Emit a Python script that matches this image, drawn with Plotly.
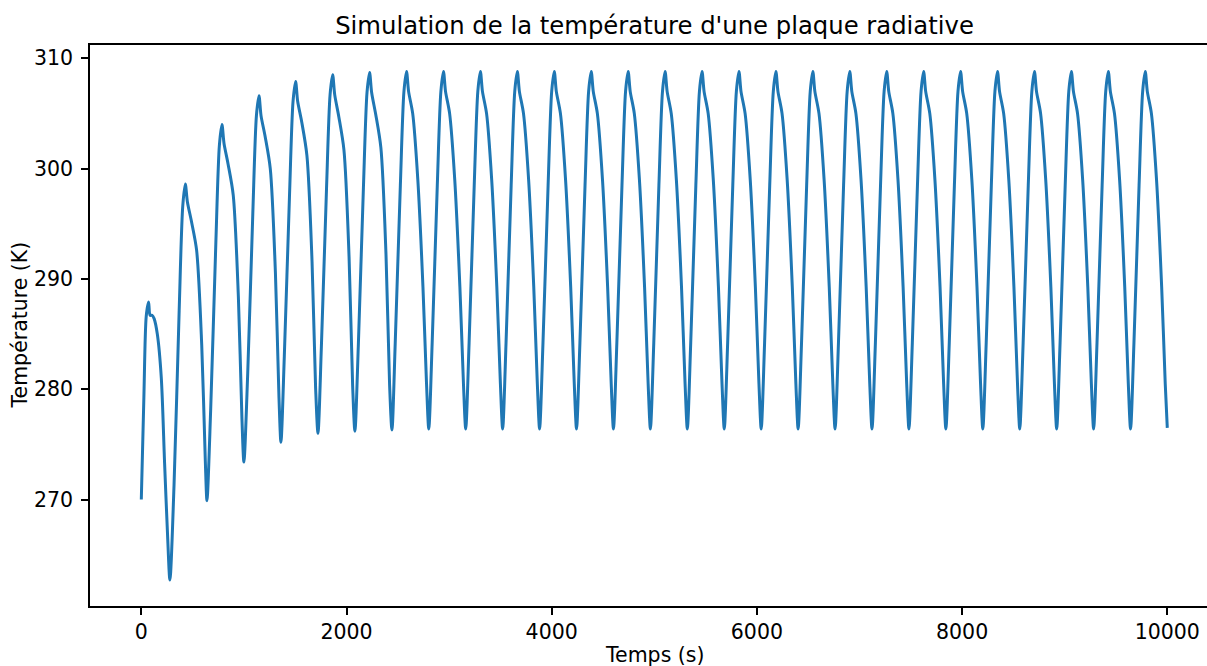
import plotly.graph_objects as go

# time (s) and plate temperature (K), one row per heating cycle
temps_s = [
    0, 25, 48, 71, 86, 105, 125, 156, 195, 227, 255, 279,
    319, 369, 404, 429, 449, 489, 539, 589, 624, 640,
    676, 726, 761, 786, 806, 846, 896, 946, 981, 1000,
    1037, 1087, 1122, 1147, 1167, 1207, 1257, 1307, 1342, 1361,
    1394, 1444, 1479, 1504, 1524, 1564, 1614, 1664, 1699, 1722,
    1755, 1805, 1840, 1865, 1885, 1925, 1975, 2025, 2060, 2082,
    2115, 2165, 2200, 2225, 2245, 2285, 2335, 2385, 2420, 2443,
    2475, 2525, 2560, 2585, 2605, 2645, 2695, 2745, 2780, 2802,
    2835, 2885, 2920, 2945, 2965, 3005, 3055, 3105, 3140, 3162,
    3195, 3245, 3280, 3305, 3325, 3365, 3415, 3465, 3500, 3522,
    3555, 3605, 3640, 3665, 3685, 3725, 3775, 3825, 3860, 3882,
    3915, 3965, 4000, 4025, 4045, 4085, 4135, 4185, 4220, 4242,
    4275, 4325, 4360, 4385, 4405, 4445, 4495, 4545, 4580, 4602,
    4635, 4685, 4720, 4745, 4765, 4805, 4855, 4905, 4940, 4962,
    4995, 5045, 5080, 5105, 5125, 5165, 5215, 5265, 5300, 5322,
    5355, 5405, 5440, 5465, 5485, 5525, 5575, 5625, 5660, 5682,
    5715, 5765, 5800, 5825, 5845, 5885, 5935, 5985, 6020, 6042,
    6075, 6125, 6160, 6185, 6205, 6245, 6295, 6345, 6380, 6402,
    6435, 6485, 6520, 6545, 6565, 6605, 6655, 6705, 6740, 6762,
    6795, 6845, 6880, 6905, 6925, 6965, 7015, 7065, 7100, 7122,
    7155, 7205, 7240, 7265, 7285, 7325, 7375, 7425, 7460, 7482,
    7515, 7565, 7600, 7625, 7645, 7685, 7735, 7785, 7820, 7842,
    7875, 7925, 7960, 7985, 8005, 8045, 8095, 8145, 8180, 8202,
    8235, 8285, 8320, 8345, 8365, 8405, 8455, 8505, 8540, 8562,
    8595, 8645, 8680, 8705, 8725, 8765, 8815, 8865, 8900, 8922,
    8955, 9005, 9040, 9065, 9085, 9125, 9175, 9225, 9260, 9282,
    9315, 9365, 9400, 9425, 9445, 9485, 9535, 9585, 9620, 9642,
    9675, 9725, 9760, 9785, 9805, 9845, 9895, 9945, 9980, 10000,
]

temperature_K = [
    270.0, 279.2, 286.6, 287.9, 286.7, 286.7, 286.4, 285.0, 281.0, 273.3, 267.0, 262.7,
    271.3, 287.1, 296.6, 298.6, 297.0, 295.2, 292.6, 284.0, 273.5, 269.9,
    278.1, 293.1, 302.1, 304.0, 302.3, 300.4, 297.6, 288.4, 277.3, 273.4,
    281.4, 296.0, 304.8, 306.6, 304.8, 302.9, 300.0, 290.6, 279.2, 275.2,
    283.0, 297.4, 306.1, 307.9, 306.1, 304.2, 301.2, 291.6, 280.1, 276.0,
    283.8, 298.1, 306.7, 308.5, 306.7, 304.7, 301.7, 292.0, 280.3, 276.2,
    283.9, 298.3, 306.9, 308.7, 306.9, 304.9, 301.9, 292.2, 280.4, 276.3,
    284.2, 298.5, 307.0, 308.8, 307.0, 305.0, 299.0, 289.3, 280.5, 276.4,
    284.2, 298.5, 307.0, 308.8, 307.0, 305.0, 299.0, 289.3, 280.5, 276.4,
    284.2, 298.5, 307.0, 308.8, 307.0, 305.0, 299.0, 289.3, 280.5, 276.4,
    284.2, 298.5, 307.0, 308.8, 307.0, 305.0, 299.0, 289.3, 280.5, 276.4,
    284.2, 298.5, 307.0, 308.8, 307.0, 305.0, 299.0, 289.3, 280.5, 276.4,
    284.2, 298.5, 307.0, 308.8, 307.0, 305.0, 299.0, 289.3, 280.5, 276.4,
    284.2, 298.5, 307.0, 308.8, 307.0, 305.0, 299.0, 289.3, 280.5, 276.4,
    284.2, 298.5, 307.0, 308.8, 307.0, 305.0, 299.0, 289.3, 280.5, 276.4,
    284.2, 298.5, 307.0, 308.8, 307.0, 305.0, 299.0, 289.3, 280.5, 276.4,
    284.2, 298.5, 307.0, 308.8, 307.0, 305.0, 299.0, 289.3, 280.5, 276.4,
    284.2, 298.5, 307.0, 308.8, 307.0, 305.0, 299.0, 289.3, 280.5, 276.4,
    284.2, 298.5, 307.0, 308.8, 307.0, 305.0, 299.0, 289.3, 280.5, 276.4,
    284.2, 298.5, 307.0, 308.8, 307.0, 305.0, 299.0, 289.3, 280.5, 276.4,
    284.2, 298.5, 307.0, 308.8, 307.0, 305.0, 299.0, 289.3, 280.5, 276.4,
    284.2, 298.5, 307.0, 308.8, 307.0, 305.0, 299.0, 289.3, 280.5, 276.4,
    284.2, 298.5, 307.0, 308.8, 307.0, 305.0, 299.0, 289.3, 280.5, 276.4,
    284.2, 298.5, 307.0, 308.8, 307.0, 305.0, 299.0, 289.3, 280.5, 276.4,
    284.2, 298.5, 307.0, 308.8, 307.0, 305.0, 299.0, 289.3, 280.5, 276.4,
    284.2, 298.5, 307.0, 308.8, 307.0, 305.0, 299.0, 289.3, 280.5, 276.4,
    284.2, 298.5, 307.0, 308.8, 307.0, 305.0, 299.0, 289.3, 280.5, 276.4,
    284.2, 298.5, 307.0, 308.8, 307.0, 305.0, 299.0, 289.3, 280.5, 276.5,
]

x_ticks = [0, 2000, 4000, 6000, 8000, 10000]
x_labels = ["0", "2000", "4000", "6000", "8000", "10000"]
y_ticks = [270, 280, 290, 300, 310]

font = "DejaVu Sans"

fig = go.Figure()
fig.add_trace(go.Scatter(x=temps_s, y=temperature_K, mode="lines",
                         line=dict(color="#1f77b4", width=3, shape="spline", smoothing=0.8),
                         showlegend=False))

fig.update_layout(
    width=1207, height=666,
    margin=dict(l=90, r=0, t=45, b=60),
    paper_bgcolor="white", plot_bgcolor="white",
    font=dict(family=font, size=20.5, color="black"),
    title=dict(text="Simulation de la température d'une plaque radiative",
               font=dict(family=font, size=24.3, color="black"),
               xref="container", x=654.5 / 1207, xanchor="center",
               yref="container", y=1 - 25 / 666, yanchor="middle"),
)

fig.update_xaxes(range=[-500, 10387], tickvals=x_ticks, ticktext=x_labels,
                 ticks="outside", ticklen=7, tickwidth=1.5, tickcolor="black",
                 showline=True, linewidth=1.5, linecolor="black", mirror=True,
                 showgrid=False, zeroline=False, tickfont=dict(size=20.5))
fig.update_yaxes(range=[260.35, 311.2], tickvals=y_ticks, ticks="outside", ticklen=7,
                 tickwidth=1.5, tickcolor="black", showline=True, linewidth=1.5,
                 linecolor="black", showgrid=False, zeroline=False,
                 tickfont=dict(size=20.5), ticklabelstandoff=4)

# axis titles centred on the (uncropped) axes like the original
fig.add_annotation(text="Temps (s)", xref="paper", x=(654.5 - 90) / 1117, xanchor="center",
                   yref="paper", y=-(655 - 606) / 561, yanchor="middle",
                   showarrow=False, font=dict(size=20.5))
fig.add_annotation(text="Température (K)", textangle=-90, xref="paper", x=-(90 - 19) / 1117,
                   xanchor="center", yref="paper", y=0.5, yanchor="middle",
                   showarrow=False, font=dict(size=20.5))

# drop the default page margin so the figure sits at the window's corner, no modebar
fig.write_html("out.html", config={"displayModeBar": False},
               post_script="document.body.style.margin='0';")
